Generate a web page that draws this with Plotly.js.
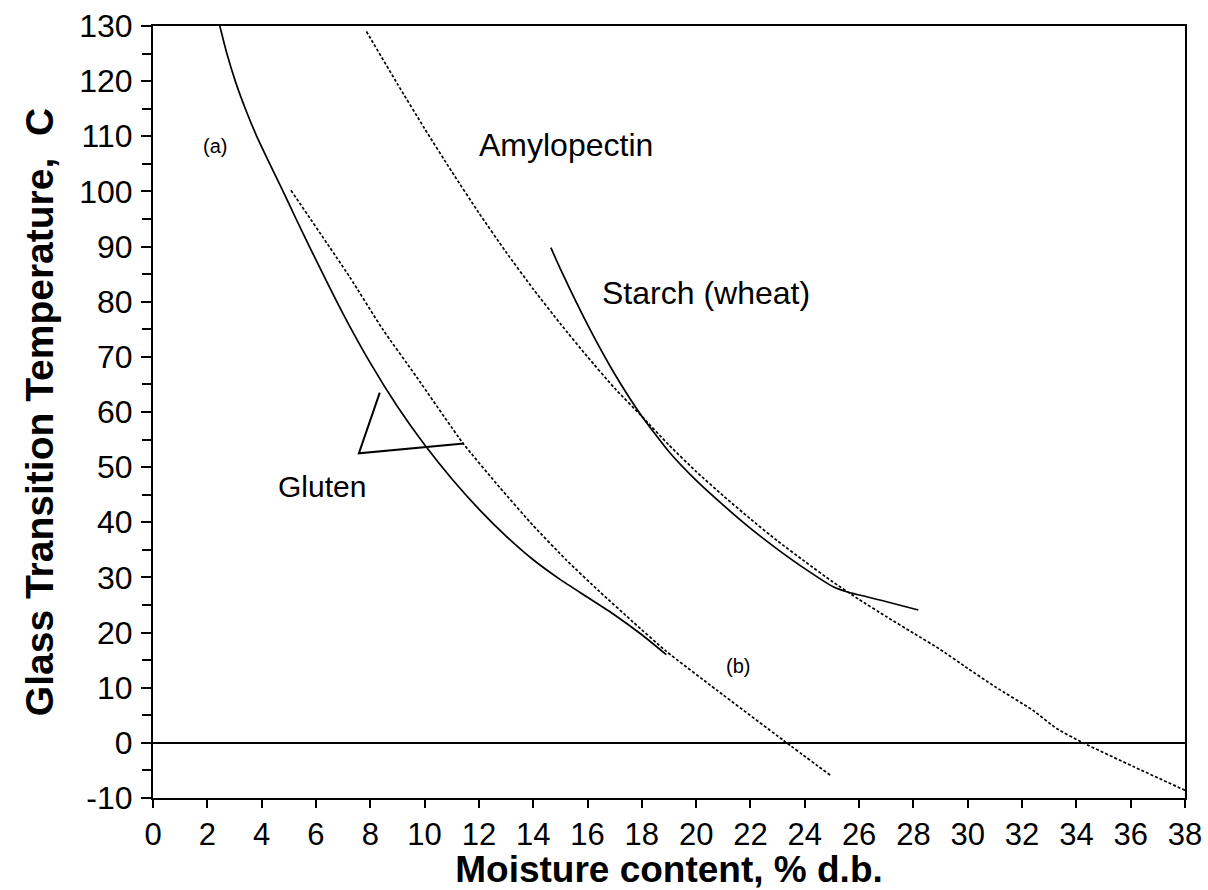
<!DOCTYPE html>
<html>
<head>
<meta charset="utf-8">
<script src="https://cdn.plot.ly/plotly-3.0.1.min.js"></script>
<style>
html,body{margin:0;padding:0;background:#fff;}
#chart{width:1208px;height:890px;}
</style>
</head>
<body>
<div id="chart"></div>
<script>
// Gluten (a) - solid curve
const glutenA_x = [2.46, 2.72, 3.03, 3.4, 3.82, 4.3, 4.79, 5.27, 5.76, 7, 8, 9, 10, 11, 12, 13, 14, 15, 16, 17, 18, 18.9];
const glutenA_y = [130, 125, 120, 115, 110, 105, 100, 95, 90, 77.8, 68.9, 61.0, 54.05, 47.9, 42.4, 37.5, 33.2, 29.6, 26.4, 23.2, 19.6, 16.0];
// Gluten (b) - dashed curve
const glutenB_x = [5.08, 7.24, 8.47, 9.7, 11.42, 12.77, 14.0, 15.23, 16.45, 17.68, 18.9, 20.75, 23.2, 25.0];
const glutenB_y = [100.2, 84.5, 74.9, 66.4, 54.3, 46.3, 39.4, 33.1, 27.4, 21.9, 16.6, 9.6, 0.5, -6.1];
// Amylopectin - dashed curve
const amylo_x = [7.86, 9, 10, 11, 12, 13, 14, 15, 16, 17, 18, 19, 20, 21, 22, 23, 24, 25, 26, 27, 28, 29, 30, 31, 32.4, 33.27, 34.25, 36.1, 38.0];
const amylo_y = [129, 119.5, 111.4, 103.6, 96.1, 89.0, 82.3, 76.0, 70.0, 64.3, 59.2, 54.0, 49.2, 44.8, 40.6, 36.6, 32.9, 29.3, 26.0, 22.9, 19.9, 16.9, 13.5, 10.2, 5.9, 2.6, 0, -4.3, -8.6];
// Starch (wheat) - solid curve
const starch_x = [14.65, 15, 16, 17, 18, 19, 20, 21, 22, 23, 24, 25.05, 25.54, 26.77, 28.18];
const starch_y = [89.8, 85.95, 75.85, 66.9, 59.25, 52.8, 47.6, 43.1, 38.9, 35.1, 31.6, 28.3, 27.4, 25.9, 24.1];
// Pointer lines for the "Gluten" label
const bracket_x = [8.35, 7.58, 11.45];
const bracket_y = [63.5, 52.5, 54.3];

// Axis ticks
const xTicks = [0,2,4,6,8,10,12,14,16,18,20,22,24,26,28,30,32,34,36,38];
const yTicks = [-10,0,10,20,30,40,50,60,70,80,90,100,110,120,130];

// Labels: text, x, y, size
const labelText = ["(a)", "Amylopectin", "Starch (wheat)", "Gluten", "(b)"];
const labelX = [2.3, 15.22, 20.38, 6.21, 21.55];
const labelY = [108.2, 108.4, 81.6, 46.4, 13.9];
const labelSize = [20, 32, 32, 30, 20];

const FONT = "Liberation Sans, Arial, Helvetica, sans-serif";
const solid = {color:'#000', width:1.7, shape:'spline', smoothing:0.5};
const dashed = {color:'#000', width:1.7, dash:'3px,2px', shape:'spline', smoothing:0.5};

const traces = [
  {x:glutenA_x, y:glutenA_y, mode:'lines', line:solid, hoverinfo:'skip'},
  {x:glutenB_x, y:glutenB_y, mode:'lines', line:dashed, hoverinfo:'skip'},
  {x:amylo_x, y:amylo_y, mode:'lines', line:dashed, hoverinfo:'skip'},
  {x:starch_x, y:starch_y, mode:'lines', line:solid, hoverinfo:'skip'},
  {x:bracket_x, y:bracket_y, mode:'lines', line:{color:'#000', width:2}, hoverinfo:'skip'}
];

const annotations = labelText.map((t,i)=>({
  x:labelX[i], y:labelY[i], xref:'x', yref:'y', text:t, showarrow:false,
  font:{family:FONT, size:labelSize[i], color:'#000'}, xanchor:'center', yanchor:'middle'
}));

const layout = {
  width:1208, height:890,
  margin:{l:153, r:23, t:26, b:92, pad:0},
  paper_bgcolor:'#fff', plot_bgcolor:'#fff',
  showlegend:false,
  font:{family:FONT, color:'#000'},
  xaxis:{
    range:[0,38], tickvals:xTicks, ticktext:xTicks.map(String),
    ticks:'outside', ticklen:8, tickwidth:2, tickcolor:'#000',
    showline:true, linewidth:2, linecolor:'#000', mirror:true,
    showgrid:false, zeroline:false,
    tickfont:{family:FONT, size:31, color:'#000'},
    ticklabelstandoff:0,
    title:{text:'<b>Moisture content, % d.b.</b>', font:{family:FONT, size:37, color:'#000'}, standoff:4}
  },
  yaxis:{
    range:[-10,130], tickvals:yTicks, ticktext:yTicks.map(String),
    ticks:'outside', ticklen:10, tickwidth:2, tickcolor:'#000',
    minor:{dtick:5, tick0:0, ticks:'outside', ticklen:9, tickwidth:2, tickcolor:'#000'},
    showline:true, linewidth:2, linecolor:'#000', mirror:true,
    showgrid:false, zeroline:true, zerolinecolor:'#000', zerolinewidth:2,
    tickfont:{family:FONT, size:32, color:'#000'},
    ticklabelstandoff:2,
    title:{text:'<b>Glass Transition Temperature,  C</b>', font:{family:FONT, size:39, color:'#000'}, standoff:14}
  },
  annotations:annotations
};

Plotly.newPlot('chart', traces, layout, {staticPlot:true, displayModeBar:false});
</script>
</body>
</html>
